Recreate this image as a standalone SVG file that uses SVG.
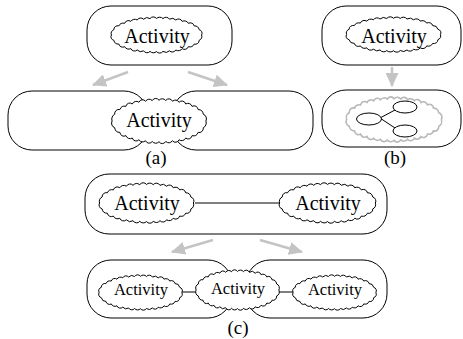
<svg xmlns="http://www.w3.org/2000/svg" xmlns:xlink="http://www.w3.org/1999/xlink" width="463" height="339" viewBox="0 0 463 339">
<style>
.box{fill:#fff;stroke:#000;stroke-width:1}
.cl{fill:#fff;stroke:#000;stroke-width:1}
.clg{fill:#fff;stroke:#b8b8b8;stroke-width:1.6}
.lbl{font-family:"Liberation Serif","Times New Roman",serif;font-size:20px;text-anchor:middle;fill:#000}
.sm{font-size:16.5px}
.cap{font-family:"Liberation Serif","Times New Roman",serif;font-size:19px;text-anchor:middle;fill:#000}
.ga{stroke:#c4c4c4;stroke-width:2.5;fill:none;marker-end:url(#gh)}
.ln{stroke:#000;stroke-width:1;fill:none}
</style>
<defs>
<path id="cloud" vector-effect="non-scaling-stroke" d="M46,0 A4.5,4.5 0 0 1 43.5,5.8 A4,4 0 0 1 38.4,9.9 A5,5 0 0 1 32.5,12.7 A4,4 0 0 1 26.2,14.8 A4.5,4.5 0 0 1 19.7,16.3 A4,4 0 0 1 13.2,17.2 A5,5 0 0 1 6.6,17.8 A4,4 0 0 1 0,18 A4.5,4.5 0 0 1 -6.6,17.8 A4,4 0 0 1 -13.2,17.2 A5,5 0 0 1 -19.7,16.3 A4,4 0 0 1 -26.2,14.8 A4.5,4.5 0 0 1 -32.5,12.7 A4,4 0 0 1 -38.4,9.9 A5,5 0 0 1 -43.5,5.8 A4,4 0 0 1 -46,0 A4.5,4.5 0 0 1 -43.5,-5.8 A4,4 0 0 1 -38.4,-9.9 A5,5 0 0 1 -32.5,-12.7 A4,4 0 0 1 -26.2,-14.8 A4.5,4.5 0 0 1 -19.7,-16.3 A4,4 0 0 1 -13.2,-17.2 A5,5 0 0 1 -6.6,-17.8 A4,4 0 0 1 0,-18 A4.5,4.5 0 0 1 6.6,-17.8 A4,4 0 0 1 13.2,-17.2 A5,5 0 0 1 19.7,-16.3 A4,4 0 0 1 26.2,-14.8 A4.5,4.5 0 0 1 32.5,-12.7 A4,4 0 0 1 38.4,-9.9 A5,5 0 0 1 43.5,-5.8 A4,4 0 0 1 46,0 Z"/>
<marker id="gh" markerUnits="userSpaceOnUse" viewBox="0 0 14 13" refX="13" refY="6.5" markerWidth="14" markerHeight="13" orient="auto">
<path d="M0,0 L14,6.5 L0,13 Z" fill="#c4c4c4"/>
</marker>
</defs>

<!-- panel (a) -->
<g id="a-top">
<rect class="box" x="87" y="6" width="145" height="59" rx="24" ry="24"/>
<use href="#cloud" class="cl" transform="translate(156.5,35) scale(0.98,0.92)"/>
<text class="lbl" x="157" y="43">Activity</text>
</g>
<g id="a-bottom">
<rect class="box" x="8" y="91" width="140" height="59" rx="24" ry="24"/>
<rect class="box" x="172" y="91" width="141" height="59" rx="24" ry="24"/>
<use href="#cloud" class="cl" transform="translate(159,121) scale(1.02,1.15)"/>
<text class="lbl" x="159" y="127">Activity</text>
</g>
<text class="cap" x="156" y="164">(a)</text>

<!-- panel (b) -->
<g id="b-top">
<rect class="box" x="322" y="6" width="139" height="59" rx="24" ry="24"/>
<use href="#cloud" class="cl" transform="translate(393.5,34.5) scale(1.02,0.9)"/>
<text class="lbl" x="394" y="43">Activity</text>
</g>
<g id="b-bottom">
<rect class="box" x="322" y="90" width="139" height="57" rx="24" ry="24"/>
<use href="#cloud" class="clg" transform="translate(394,119.5) scale(1.03,1.15)"/>
<line class="ln" x1="380" y1="118" x2="395" y2="110"/>
<line class="ln" x1="380" y1="118" x2="395" y2="128"/>
<ellipse class="cl" cx="369" cy="119" rx="12.5" ry="6"/>
<ellipse class="cl" cx="405" cy="107" rx="12" ry="6"/>
<ellipse class="cl" cx="405" cy="131" rx="12" ry="6"/>
</g>
<text class="cap" x="395" y="164">(b)</text>

<!-- panel (c) -->
<g id="c-top">
<rect class="box" x="85" y="174" width="302" height="60" rx="24" ry="24"/>
</g>
<g id="c-bottom-left-box">
<rect class="box" x="87" y="260" width="145" height="58" rx="24" ry="24"/>
</g>
<g id="c-bottom-right-box">
<rect class="box" x="246" y="260" width="141" height="58" rx="24" ry="24"/>
</g>

<g id="connectors">
<line class="ga" x1="128" y1="72" x2="93" y2="85"/>
<line class="ga" x1="188" y1="72" x2="227" y2="85"/>
<line class="ga" x1="392" y1="67" x2="392" y2="86"/>
<line class="ga" x1="213" y1="240" x2="172" y2="252"/>
<line class="ga" x1="260" y1="240" x2="302" y2="252"/>
<line class="ln" x1="195" y1="203" x2="279" y2="203"/>
<line class="ln" x1="182" y1="292" x2="198" y2="292"/>
<line class="ln" x1="279" y1="292" x2="293" y2="292"/>
</g>

<g id="c-top-left">
<use href="#cloud" class="cl" transform="translate(146.5,203) scale(1.02,1.03)"/>
<text class="lbl" x="147" y="210">Activity</text>
</g>
<g id="c-top-right">
<use href="#cloud" class="cl" transform="translate(327.5,203) scale(1.04,1.03)"/>
<text class="lbl" x="328" y="210">Activity</text>
</g>
<g id="c-bot-left">
<use href="#cloud" class="cl" transform="translate(140.5,292.5) scale(0.9,0.9)"/>
<text class="lbl sm" x="141" y="295">Activity</text>
</g>
<g id="c-bot-mid">
<use href="#cloud" class="cl" transform="translate(237.5,290) scale(0.9,1.03)"/>
<text class="lbl sm" x="238" y="293.5">Activity</text>
</g>
<g id="c-bot-right">
<use href="#cloud" class="cl" transform="translate(334.5,292.5) scale(0.9,0.9)"/>
<text class="lbl sm" x="335" y="295">Activity</text>
</g>
<text class="cap" x="238" y="334">(c)</text>
</svg>
